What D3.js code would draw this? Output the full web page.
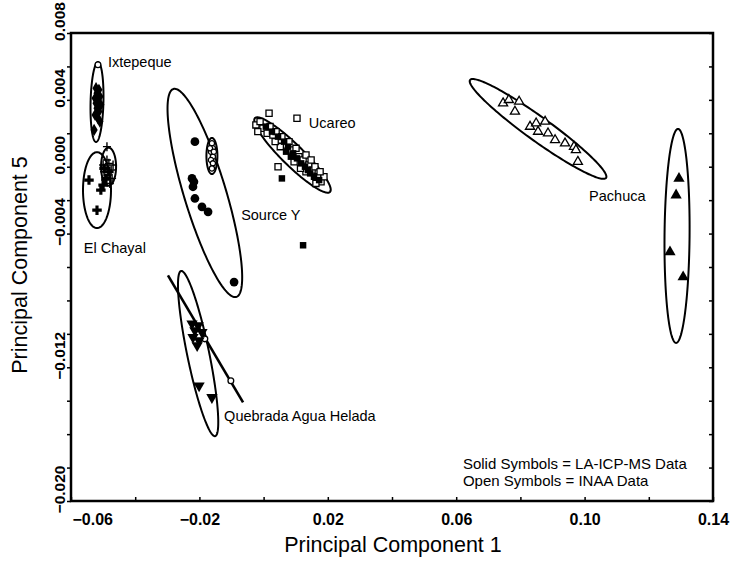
<!DOCTYPE html>
<html>
<head>
<meta charset="utf-8">
<script src="https://cdn.jsdelivr.net/npm/d3@7"></script>
<style>
  body { margin: 0; background: #fff; }
  text { font-family: "Liberation Sans", Arial, Helvetica, sans-serif; fill: #000; }
</style>
</head>
<body>
<svg id="chart" width="732" height="563"></svg>
<script>
// ---- Obsidian source groups plotted on PC1 vs PC5 ----
// Each point: [PC1, PC5]

const ixtepequeSolid = [[-0.0522,0.0047],[-0.0513,0.0046],[-0.0519,0.0044],[-0.0510,0.0042],[-0.0525,0.0041],
  [-0.0516,0.0040],[-0.0522,0.0038],[-0.0507,0.0037],[-0.0519,0.0035],[-0.0513,0.0033],[-0.0525,0.0031],
  [-0.0516,0.0029],[-0.0510,0.0027],[-0.0528,0.0022]];
const ixtepequeOpen = [[-0.0516,0.0061]];

const elChayalSolid = [[-0.0544,-0.0008],[-0.0519,-0.0026],[-0.0507,-0.0014],[-0.0500,-0.0011],[-0.0491,-0.0007],
  [-0.0482,-0.0003],[-0.0497,-0.0001]];
const elChayalOpen = [[-0.0488,0.0012],[-0.0500,0.0001],[-0.0491,-0.0001],[-0.0482,0.0002],[-0.0475,-0.0002],
  [-0.0497,-0.0003],[-0.0485,-0.0005],[-0.0472,-0.0007],[-0.0494,-0.0008],[-0.0479,-0.0010],[-0.0488,0.0004],
  [-0.0469,0.0001]];

const sourceYSolid = [[-0.0214,0.0015],[-0.0223,-0.0007],[-0.0217,-0.0009],[-0.0220,-0.0012],[-0.0214,-0.0019],
  [-0.0192,-0.0024],[-0.0173,-0.0027],[-0.0092,-0.0069]];
const sourceYOpen = [[-0.0161,0.0014],[-0.0158,0.0011],[-0.0164,0.0009],[-0.0158,0.0006],[-0.0164,0.0004],
  [-0.0158,0.0002],[-0.0161,-0.0001],[-0.0167,0.0011],[-0.0155,0.0009]];

const ucareoOpen = [[-0.0024,0.0025],[-0.0011,0.0027],[-0.0002,0.0023],[0.0011,0.0020],[0.0020,0.0024],
  [0.0029,0.0019],[0.0039,0.0021],[0.0048,0.0016],[0.0057,0.0018],[0.0067,0.0013],[0.0079,0.0015],
  [0.0088,0.0010],[0.0101,0.0011],[0.0110,0.0006],[0.0123,0.0004],[0.0132,0.0007],[0.0141,0.0001],
  [0.0151,-0.0002],[0.0160,0.0000],[0.0169,-0.0006],[0.0179,-0.0009],[0.0188,-0.0006],[0.0163,-0.0010],
  [0.0132,-0.0003],[0.0017,0.0032],[0.0104,0.0029],[0.0045,0.0000],[-0.0018,0.0021],[0.0052,0.0012],
  [0.0095,0.0003],[0.0148,0.0004],[0.0176,-0.0003],[0.0036,0.0015],[0.0115,-0.0001]];
const ucareoSolid = [[0.0007,0.0024],[0.0026,0.0021],[0.0045,0.0018],[0.0064,0.0015],[0.0076,0.0012],
  [0.0092,0.0008],[0.0104,0.0005],[0.0117,0.0002],[0.0129,0.0000],[0.0145,-0.0004],[0.0157,-0.0006],
  [0.0173,-0.0008],[0.0057,-0.0007],[0.0123,-0.0047],[0.0070,0.0009],[0.0085,0.0006],[0.0138,-0.0002]];

const quebradaSolid = [[-0.0223,-0.0094],[-0.0204,-0.0095],[-0.0214,-0.0098],[-0.0192,-0.0099],[-0.0220,-0.0102],
  [-0.0201,-0.0104],[-0.0207,-0.0107],[-0.0201,-0.0131],[-0.0161,-0.0138]];
const quebradaOpen = [[-0.0183,-0.0103],[-0.0102,-0.0128]];
const quebradaTrend = [[-0.0298,-0.0065],[-0.0064,-0.0141]];

const pachucaOpen = [[0.0746,0.0038],[0.0764,0.0040],[0.0796,0.0039],[0.0783,0.0033],[0.0830,0.0024],
  [0.0849,0.0026],[0.0877,0.0027],[0.0855,0.0021],[0.0886,0.0020],[0.0908,0.0016],[0.0939,0.0014],
  [0.0967,0.0012],[0.0973,0.0010],[0.0979,0.0003]];
const pachucaSolid = [[0.1294,-0.0007],[0.1285,-0.0017],[0.1266,-0.0051],[0.1307,-0.0066]];

// Confidence ellipses: centre [PC1, PC5], half-axis vectors u and v in data units
const groupEllipses = [
  { c: [-0.0519, 0.00387], u: [0.0003, 0.00239], v: [0.0020, 0] },        // Ixtepeque
  { c: [-0.0519, -0.0014], u: [0, 0.00227], v: [0.00436, 0] },            // El Chayal (LA-ICP-MS)
  { c: [-0.0483, 0.0000], u: [0, 0.00114], v: [0.00234, 0] },             // El Chayal (INAA)
  { c: [-0.0183, -0.00157], u: [0.0098, -0.00622], v: [0.00626, 0.00037] }, // Source Y
  { c: [-0.0161, 0.00064], u: [0, 0.00108], v: [0.00171, 0] },            // Source Y (INAA)
  { c: [0.0090, 0.0007], u: [0.01168, -0.00221], v: [0.00235, 0.00045] },  // Ucareo
  { c: [-0.0204, -0.01118], u: [0.0053, -0.00494], v: [0.00336, 0.00013] }, // Quebrada Agua Helada
  { c: [0.0855, 0.00226], u: [0.02118, -0.00293], v: [0.00218, 0.00058] }, // Pachuca (INAA)
  { c: [0.1288, -0.00414], u: [0.0003, 0.0064], v: [0.0039, 0] }           // Pachuca (LA-ICP-MS)
];

// Group names, anchored at [PC1, PC5]
const groupLabels = [
  { text: "Ixtepeque", at: [-0.0485, 0.00597] },
  { text: "El Chayal", at: [-0.0560, -0.00516] },
  { text: "Source Y", at: [-0.0070, -0.00319] },
  { text: "Ucareo", at: [0.0141, 0.00232] },
  { text: "Pachuca", at: [0.1014, -0.00205] },
  { text: "Quebrada Agua Helada", at: [-0.0123, -0.01521] }
];
const legendLines = [
  { text: "Solid Symbols = LA-ICP-MS Data", at: [0.0621, -0.01808] },
  { text: "Open Symbols = INAA Data", at: [0.0621, -0.01910] }
];

const xTicks = [-0.06, -0.04, -0.02, 0.00, 0.02, 0.04, 0.06, 0.08, 0.10, 0.12, 0.14];
const xTickLabels = [-0.06, -0.02, 0.02, 0.06, 0.10, 0.14];
const yTicks = [0.008, 0.006, 0.004, 0.002, 0.000, -0.002, -0.004, -0.006, -0.008, -0.010, -0.012, -0.014, -0.016, -0.018, -0.020];
const yTickLabels = [0.008, 0.004, 0.000, -0.004, -0.012, -0.020];

// ---- Layout ----
const W = 732, H = 563;
const margin = { top: 33, right: 19, bottom: 62, left: 71 };
const svg = d3.select("#chart");

const x = d3.scaleLinear().domain([-0.06, 0.14]).range([margin.left, W - margin.right]);
const y = d3.scaleLinear().domain([-0.020, 0.008]).range([H - margin.bottom, margin.top]);

const inList = (list, d) => list.some(v => Math.abs(v - d) < 1e-9);
const fx = d3.format(".2f"), fy = d3.format(".3f");

// Bottom axis: inward ticks, bold labels
const gx = svg.append("g")
  .attr("transform", `translate(0,${y.range()[0]})`)
  .call(d3.axisBottom(x).tickValues(xTicks).tickSize(-4).tickPadding(13)
    .tickFormat(d => inList(xTickLabels, d) ? fx(d) : ""));
gx.select(".domain").remove();
gx.selectAll("line").attr("stroke", "#000").attr("stroke-width", 1.5);
gx.selectAll("text").style("font-size", "16px").style("font-weight", "bold");
gx.selectAll(".tick").filter(d => Math.abs(d - x.domain()[0]) < 1e-9)
  .select("text").attr("text-anchor", "start").attr("x", 1);

// Left axis: outward ticks, rotated labels
const gy = svg.append("g")
  .attr("transform", `translate(${x.range()[0]},0)`)
  .call(d3.axisLeft(y).tickValues(yTicks).tickSize(4)
    .tickFormat(d => inList(yTickLabels, d) ? fy(d) : ""));
gy.select(".domain").remove();
gy.selectAll("line").attr("stroke", "#000").attr("stroke-width", 1.5);
gy.selectAll("text")
  .style("font-size", "15.5px").style("font-weight", "bold")
  .attr("x", null).attr("dy", null)
  .attr("text-anchor", "middle")
  .attr("transform", "translate(-6,-12) rotate(-90)");

// Right axis: inward ticks only
const gr = svg.append("g")
  .attr("transform", `translate(${x.range()[1]},0)`)
  .call(d3.axisRight(y).tickValues(yTicks).tickSize(-4).tickFormat(""));
gr.select(".domain").remove();
gr.selectAll("line").attr("stroke", "#000").attr("stroke-width", 1.5);

// Plot frame
svg.append("rect")
  .attr("x", x.range()[0]).attr("y", y.range()[1])
  .attr("width", x.range()[1] - x.range()[0])
  .attr("height", y.range()[0] - y.range()[1])
  .attr("fill", "none").attr("stroke", "#000").attr("stroke-width", 2.5);

// Axis titles
svg.append("text")
  .attr("x", (x.range()[0] + x.range()[1]) / 2 + 1).attr("y", 552)
  .attr("text-anchor", "middle").style("font-size", "21.5px")
  .text("Principal Component 1");
svg.append("text")
  .attr("transform", `translate(27,${(y.range()[0] + y.range()[1]) / 2 - 2}) rotate(-90)`)
  .attr("text-anchor", "middle").style("font-size", "21.5px")
  .text("Principal Component 5");

// ---- Ellipses ----
const angles = d3.range(0, 2 * Math.PI, Math.PI / 90);
const ellipseLine = d3.line().curve(d3.curveLinearClosed);
svg.append("g").selectAll("path")
  .data(groupEllipses).join("path")
  .attr("d", e => ellipseLine(angles.map(t => [
    x(e.c[0] + Math.cos(t) * e.u[0] + Math.sin(t) * e.v[0]),
    y(e.c[1] + Math.cos(t) * e.u[1] + Math.sin(t) * e.v[1])
  ])))
  .attr("fill", "none").attr("stroke", "#000").attr("stroke-width", 2);

// Quebrada Agua Helada trend line
svg.append("path")
  .attr("d", d3.line().x(d => x(d[0])).y(d => y(d[1]))(quebradaTrend))
  .attr("fill", "none").attr("stroke", "#000").attr("stroke-width", 2.6);

// ---- Symbols ----
const sym = (type, size) => d3.symbol().type(type).size(size)();
const plusPath = "M-4,0H4M0,-4.5V4.5";

function plot(data, path, opts) {
  svg.append("g").selectAll("path")
    .data(data).join("path")
    .attr("transform", d => `translate(${x(d[0])},${y(d[1])})${opts.rotate ? " rotate(" + opts.rotate + ")" : ""}`)
    .attr("d", path)
    .attr("fill", opts.fill)
    .attr("stroke", opts.stroke || "none")
    .attr("stroke-width", opts.sw || 0);
}

const openStyle = { fill: "#fff", stroke: "#000", sw: 1.3 };
const solidStyle = { fill: "#000" };

// Open symbols (INAA)
plot(ixtepequeOpen, sym(d3.symbolCircle, 26), openStyle);
plot(elChayalOpen, plusPath, { fill: "none", stroke: "#000", sw: 1.4 });
plot(sourceYOpen, sym(d3.symbolCircle, 22), openStyle);
plot(ucareoOpen, sym(d3.symbolSquare, 38), openStyle);
plot(quebradaOpen, sym(d3.symbolCircle, 26), openStyle);
plot(pachucaOpen, sym(d3.symbolTriangle, 36), openStyle);

// Solid symbols (LA-ICP-MS)
plot(ixtepequeSolid, sym(d3.symbolDiamond, 44), solidStyle);
plot(elChayalSolid, sym(d3.symbolCross, 50), solidStyle);
plot(sourceYSolid, sym(d3.symbolCircle, 60), solidStyle);
plot(ucareoSolid, sym(d3.symbolSquare, 42), solidStyle);
plot(quebradaSolid, sym(d3.symbolTriangle, 55), { fill: "#000", rotate: 180 });
plot(pachucaSolid, sym(d3.symbolTriangle, 55), solidStyle);

// ---- Labels ----
svg.append("g").selectAll("text")
  .data(groupLabels).join("text")
  .attr("x", d => x(d.at[0])).attr("y", d => y(d.at[1]))
  .style("font-size", "14.5px")
  .text(d => d.text);

svg.append("g").selectAll("text")
  .data(legendLines).join("text")
  .attr("x", d => x(d.at[0])).attr("y", d => y(d.at[1]))
  .style("font-size", "15px")
  .text(d => d.text);
</script>
</body>
</html>
